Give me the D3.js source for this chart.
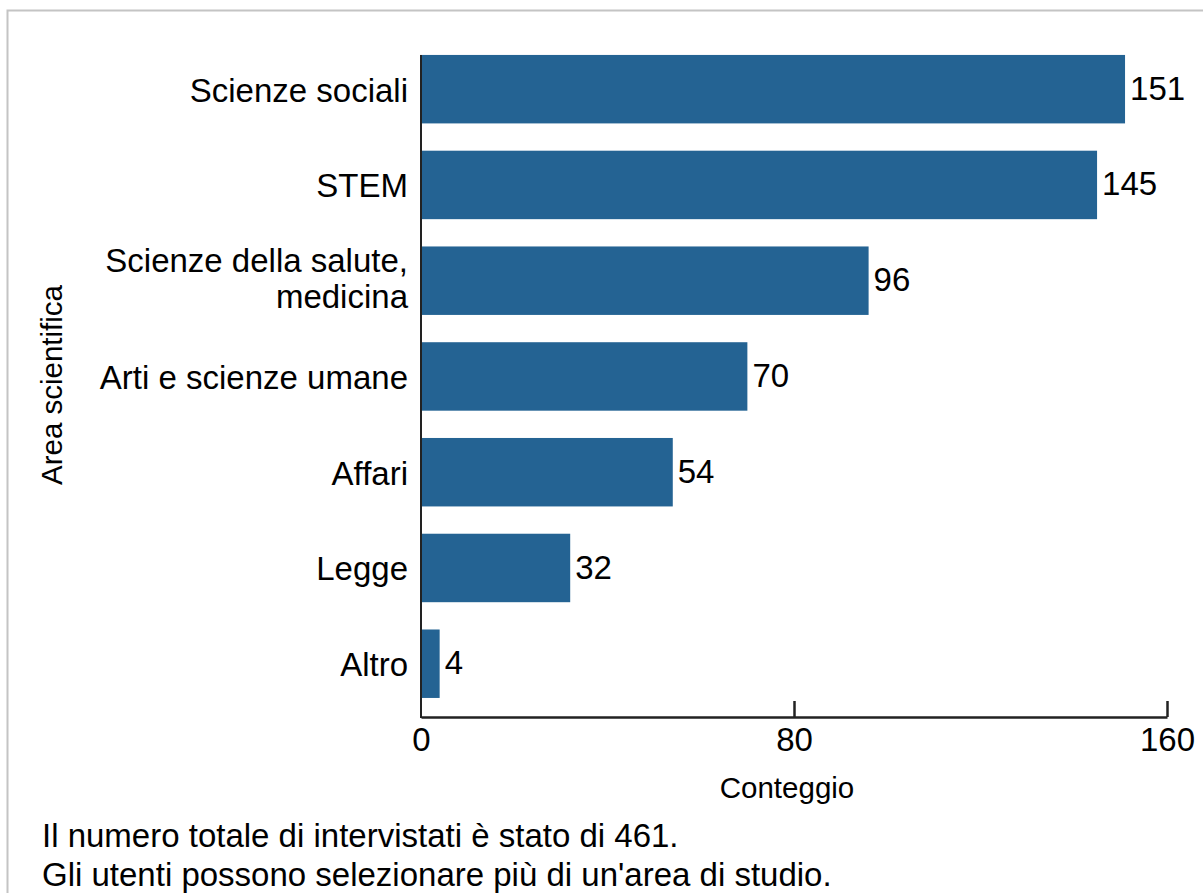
<!DOCTYPE html>
<html>
<head>
<meta charset="utf-8">
<script src="https://cdn.jsdelivr.net/npm/d3@7"></script>
<style>
  html, body { margin: 0; padding: 0; background: #fff; }
  svg { display: block; }
  text { font-family: "Liberation Sans", Arial, Helvetica, sans-serif; fill: #000; }
</style>
</head>
<body>
<svg id="chart" width="1203" height="893"></svg>
<script>
const categories = ["Scienze sociali", "STEM", "Scienze della salute,\nmedicina", "Arti e scienze umane", "Affari", "Legge", "Altro"];
const counts = [151, 145, 96, 70, 54, 32, 4];
const xTicks = [0, 80, 160];
const xTitle = "Conteggio";
const yTitle = "Area scientifica";
const notes = ["Il numero totale di intervistati è stato di 461.", "Gli utenti possono selezionare più di un'area di studio."];

const data = categories.map((c, i) => ({ cat: c, value: counts[i] }));

const svg = d3.select("#chart");
const W = 1203, H = 893;
svg.append("rect").attr("x", 0).attr("y", 0).attr("width", W).attr("height", H).attr("fill", "#fff");
// outer frame (top and left visible)
svg.append("rect").attr("x", 7.5).attr("y", 10.5).attr("width", 1400).attr("height", 1000)
  .attr("fill", "none").attr("stroke", "#c4c4c4").attr("stroke-width", 2);

const plotLeft = 421, plotRight = 1167, axisY = 717;
const x = d3.scaleLinear().domain([0, 160]).range([plotLeft, plotRight]);
const y = d3.scaleBand().domain(categories).range([41.3, 711.6]).paddingInner(0.285).paddingOuter(0.1425);

const barColor = "#246393";

// bars
svg.append("g").selectAll("rect").data(data).join("rect")
  .attr("x", x(0) - 1)
  .attr("y", d => y(d.cat))
  .attr("width", d => x(d.value) - x(0) + 1)
  .attr("height", y.bandwidth())
  .attr("fill", barColor);

// value labels
svg.append("g").selectAll("text").data(data).join("text")
  .attr("x", d => x(d.value) + 5)
  .attr("y", d => y(d.cat) + y.bandwidth() / 2)
  .attr("dy", "0.32em")
  .attr("font-size", 33)
  .text(d => d.value);

// y axis line
svg.append("line")
  .attr("x1", plotLeft).attr("x2", plotLeft)
  .attr("y1", y(categories[0])).attr("y2", axisY + 1)
  .attr("stroke", "#222").attr("stroke-width", 2);

// category labels
const lineH = 36;
svg.append("g").selectAll("text").data(categories).join("text")
  .attr("text-anchor", "end")
  .attr("font-size", 33)
  .each(function (c) {
    const lines = c.split("\n");
    const cy = y(c) + y.bandwidth() / 2;
    const n = lines.length;
    const t = d3.select(this);
    lines.forEach((ln, i) => {
      const off = n > 1 ? -3 : 0;
      t.append("tspan")
        .attr("x", plotLeft - 13)
        .attr("y", cy + 12.5 + off + (i - (n - 1) / 2) * lineH)
        .text(ln);
    });
  });

// x axis
const xAxis = d3.axisBottom(x).tickValues(xTicks).tickSize(0).tickFormat(d3.format("d"));
const gx = svg.append("g").attr("transform", `translate(0,${axisY})`).call(xAxis);
gx.select(".domain").attr("stroke", "#222").attr("stroke-width", 2.5);
gx.selectAll(".tick text").attr("font-size", 33).attr("font-family", "Liberation Sans, Arial, sans-serif")
  .attr("fill", "#000").attr("y", 34).attr("dy", 0);
// ticks drawn upward (inside)
gx.selectAll(".tick line").remove();
gx.selectAll(".tick").filter(d => d !== 0).append("line")
  .attr("x1", 0).attr("x2", 0).attr("y1", -16).attr("y2", 0)
  .attr("stroke", "#222").attr("stroke-width", 2.5);

// axis titles
svg.append("text")
  .attr("x", 787).attr("y", 798)
  .attr("text-anchor", "middle")
  .attr("font-size", 29.5)
  .text(xTitle);

svg.append("text")
  .attr("transform", "translate(62,385) rotate(-90)")
  .attr("text-anchor", "middle")
  .attr("font-size", 29.5)
  .text(yTitle);

// notes
svg.append("g").selectAll("text").data(notes).join("text")
  .attr("x", 42)
  .attr("y", (d, i) => 847 + i * 39)
  .attr("font-size", 33)
  .text(d => d);
</script>
</body>
</html>
